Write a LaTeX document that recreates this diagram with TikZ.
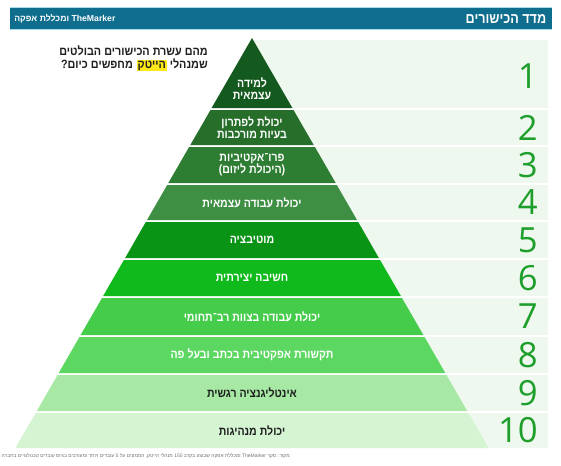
\documentclass[tikz,border=0pt]{standalone}
\usepackage{fontspec}
\setmainfont{Liberation Sans}
\newfontfamily\heb[Script=Hebrew]{Liberation Sans}
\newfontfamily\hebn[Script=Hebrew,FakeStretch=0.88]{Liberation Sans}
\newfontfamily\hebt[Script=Hebrew,FakeStretch=0.86]{Liberation Sans}
\newfontfamily\hebq[Script=Hebrew,FakeStretch=0.9]{Liberation Sans}
\newfontfamily\numfont{Open Sans}
\TeXXeTstate=1
\newcommand\hebl[1]{\beginR #1\endR}
\newcommand\ltrw[1]{\beginL #1\endL}
\definecolor{hdr}{HTML}{0F6D8E}
\definecolor{hdrline}{HTML}{A8DCEA}
\definecolor{band}{HTML}{EEF8EF}
\definecolor{rA}{HTML}{145A1E}
\definecolor{rB}{HTML}{266E2A}
\definecolor{rC}{HTML}{2D7D32}
\definecolor{rD}{HTML}{3E8E43}
\definecolor{rE}{HTML}{0A9416}
\definecolor{rF}{HTML}{10BA1C}
\definecolor{rG}{HTML}{46CC4B}
\definecolor{rH}{HTML}{5CD761}
\definecolor{rI}{HTML}{A6E8A4}
\definecolor{rJ}{HTML}{D5F4D2}
\definecolor{numgreen}{HTML}{1E9E2A}
\definecolor{labdark}{HTML}{1E1E1E}
\definecolor{hl}{HTML}{FFE81A}
\begin{document}
\begin{tikzpicture}[x=0.75pt,y=-0.75pt,
  lab/.style={font=\hebn\bfseries\fontsize{9}{9.2}\selectfont, text=white, align=center, inner sep=0},
  darklab/.style={lab, text=labdark},
  num/.style={font=\numfont\fontsize{26}{26}\selectfont, text=numgreen, anchor=east, inner sep=0},
  bandrow/.style={fill=band}]
\useasboundingbox (0,0) rectangle (561,465);
\fill[white] (0,0) rectangle (561,465);
% header
\fill[hdr] (10,7.5) rectangle (552,29);
\draw[hdrline, line width=0.6pt] (10,7.5) -- (552,7.5) (10,29) -- (552,29);
\node[font=\hebt\bfseries\fontsize{11}{12}\selectfont, text=white, anchor=east, inner sep=0] (title) at (546.5,19) {\hebl{מדד הכישורים}};
\node[font=\heb\bfseries\fontsize{6.5}{7}\selectfont, text=white, anchor=west, inner sep=0] (brand) at (14,19) {\hebl{\ltrw{TheMarker} ומכללת אפקה}};
% bands
\foreach \t/\b in {40/108,110/145,147/183,185/220,222/258,260/296,298/335,337/373,375/411,413/448}
  \fill[bandrow] (252,\t) rectangle (548,\b);
% pyramid
\fill[rA] (252,38) -- (292.4,108) -- (211.6,108) -- cycle;
\fill[rB] (210.5,110) -- (293.5,110) -- (313.7,145) -- (190.3,145) -- cycle;
\fill[rC] (189.1,147) -- (314.9,147) -- (335.7,183) -- (168.3,183) -- cycle;
\fill[rD] (167.2,185) -- (336.8,185) -- (357,220) -- (147,220) -- cycle;
\fill[rE] (145.8,222) -- (358.2,222) -- (378.9,258) -- (125.1,258) -- cycle;
\fill[rF] (123.9,260) -- (380.1,260) -- (400.9,296) -- (103.1,296) -- cycle;
\fill[rG] (102,298) -- (402,298) -- (423.4,335) -- (80.6,335) -- cycle;
\fill[rH] (79.5,337) -- (424.5,337) -- (445.3,373) -- (58.7,373) -- cycle;
\fill[rI] (57.6,375) -- (446.4,375) -- (467.2,411) -- (36.8,411) -- cycle;
\fill[rJ] (35.6,413) -- (468.4,413) -- (488.6,448) -- (15.4,448) -- cycle;
% labels
\node[lab] (l1) at (252,88.5) {\hebl{למידה}\\\hebl{עצמאית}};
\node[lab] (l2) at (252,127.5) {\hebl{יכולת לפתרון}\\\hebl{בעיות מורכבות}};
\node[lab] (l3) at (252,165) {\hebl{פרו־אקטיביות}\\\hebl{(היכולת ליזום)}};
\node[lab] (l4) at (252,202.5) {\hebl{יכולת עבודה עצמאית}};
\node[lab] (l5) at (252,240) {\hebl{מוטיבציה}};
\node[lab] (l6) at (252,278) {\hebl{חשיבה יצירתית}};
\node[lab] (l7) at (252,316.5) {\hebl{יכולת עבודה בצוות רב־תחומי}};
\node[lab] (l8) at (252,355) {\hebl{תקשורת אפקטיבית בכתב ובעל פה}};
\node[darklab] (l9) at (252,393) {\hebl{אינטליגנציה רגשית}};
\node[darklab] (l10) at (252,430.5) {\hebl{יכולת מנהיגות}};
% numbers
\node[num] (n1) at (538,76) {1};
\node[num] (n2) at (538,127.5) {2};
\node[num] (n3) at (538,165) {3};
\node[num] (n4) at (538,202.5) {4};
\node[num] (n5) at (538,240) {5};
\node[num] (n6) at (538,278) {6};
\node[num] (n7) at (538,316.5) {7};
\node[num] (n8) at (538,355) {8};
\node[num] (n9) at (538,393) {9};
\node[num] (n10) at (538,430.5) {10};
% question
\node[font=\hebq\bfseries\fontsize{9}{10}\selectfont, text=labdark, align=right, anchor=north east, inner sep=0] (q) at (208,45)
  {\hebl{מהם עשרת הכישורים הבולטים}\\\hebl{מחפשים כיום?} {\setlength\fboxsep{0.6pt}\colorbox{hl}{\hebl{הייטק}}} \hebl{שמנהלי}};
% source
\node[font=\heb\fontsize{4.2}{5}\selectfont, text=black!55, anchor=east, inner sep=0] (src) at (290,456)
  {\resizebox{216pt}{!}{\hebl{מקור: סקר \ltrw{TheMarker} ומכללת אפקה שבוצע בקרב \ltrw{150} מנהלי הייטק, הממונים על \ltrw{5} עובדים ויותר ומעורבים בגיוס עובדים טכנולוגיים בחברה}}};
\end{tikzpicture}
\end{document}
